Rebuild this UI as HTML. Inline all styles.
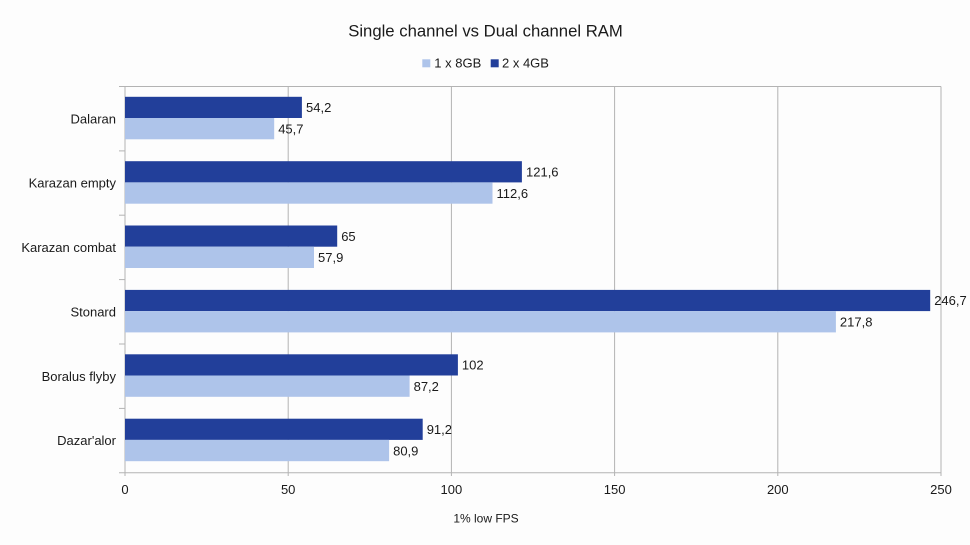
<!DOCTYPE html>
<html><head><meta charset="utf-8"><style>
html,body{margin:0;padding:0;background:#fdfdfd;}
svg{display:block;}
text{font-family:"Liberation Sans",Arial,sans-serif;fill:#1a1a1a;}
</style></head><body>
<svg width="970" height="545" viewBox="0 0 970 545" xmlns="http://www.w3.org/2000/svg">
<rect x="0" y="0" width="970" height="545" fill="#fdfdfd"/>
<text x="485.5" y="36.7" font-size="16.7" text-anchor="middle">Single channel vs Dual channel RAM</text>
<rect x="422.3" y="59.3" width="8" height="8" fill="#aec4ea"/>
<text x="434.3" y="67.3" font-size="13">1 x 8GB</text>
<rect x="490.7" y="59.3" width="8" height="8" fill="#223f9a"/>
<text x="502" y="67.3" font-size="13">2 x 4GB</text>
<g stroke="#b3b3b3" stroke-width="1" fill="none">
<line x1="288.2" y1="86.5" x2="288.2" y2="476"/>
<line x1="451.4" y1="86.5" x2="451.4" y2="476"/>
<line x1="614.6" y1="86.5" x2="614.6" y2="476"/>
<line x1="777.8" y1="86.5" x2="777.8" y2="476"/>
<line x1="941" y1="86.5" x2="941" y2="476"/>
<line x1="119" y1="86.5" x2="941" y2="86.5"/>
<line x1="119" y1="472.7" x2="941" y2="472.7"/>
<line x1="125" y1="86.5" x2="125" y2="476"/>
<line x1="119" y1="150.9" x2="125" y2="150.9"/>
<line x1="119" y1="215.2" x2="125" y2="215.2"/>
<line x1="119" y1="279.6" x2="125" y2="279.6"/>
<line x1="119" y1="344" x2="125" y2="344"/>
<line x1="119" y1="408.4" x2="125" y2="408.4"/>
</g>
<g>
<rect x="125" y="96.8" width="176.9" height="21.2" fill="#223f9a"/>
<rect x="125" y="118" width="149.2" height="21.3" fill="#aec4ea"/>
<rect x="125" y="161.2" width="396.9" height="21.2" fill="#223f9a"/>
<rect x="125" y="182.4" width="367.5" height="21.3" fill="#aec4ea"/>
<rect x="125" y="225.5" width="212.2" height="21.2" fill="#223f9a"/>
<rect x="125" y="246.7" width="189" height="21.3" fill="#aec4ea"/>
<rect x="125" y="289.9" width="805.2" height="21.2" fill="#223f9a"/>
<rect x="125" y="311.1" width="710.9" height="21.3" fill="#aec4ea"/>
<rect x="125" y="354.3" width="332.9" height="21.2" fill="#223f9a"/>
<rect x="125" y="375.5" width="284.6" height="21.3" fill="#aec4ea"/>
<rect x="125" y="418.7" width="297.7" height="21.2" fill="#223f9a"/>
<rect x="125" y="439.9" width="264.1" height="21.3" fill="#aec4ea"/>
</g>
<g font-size="13">
<text x="306" y="112.1">54,2</text>
<text x="278.2" y="133.4">45,7</text>
<text x="526" y="176.5">121,6</text>
<text x="496.5" y="197.8">112,6</text>
<text x="341.2" y="240.8">65</text>
<text x="318" y="262.1">57,9</text>
<text x="934.2" y="305.2">246,7</text>
<text x="839.9" y="326.5">217,8</text>
<text x="461.9" y="369.6">102</text>
<text x="413.6" y="390.9">87,2</text>
<text x="426.7" y="434">91,2</text>
<text x="393.1" y="455.3">80,9</text>
</g>
<g font-size="13" text-anchor="end">
<text x="116" y="123.3">Dalaran</text>
<text x="116" y="187.7">Karazan empty</text>
<text x="116" y="252">Karazan combat</text>
<text x="116" y="316.4">Stonard</text>
<text x="116" y="380.8">Boralus flyby</text>
<text x="116" y="445.2">Dazar'alor</text>
</g>
<g font-size="13" text-anchor="middle">
<text x="125" y="494">0</text>
<text x="288.2" y="494">50</text>
<text x="451.4" y="494">100</text>
<text x="614.6" y="494">150</text>
<text x="777.8" y="494">200</text>
<text x="941" y="494">250</text>
</g>
<text x="486" y="522.7" font-size="12" text-anchor="middle">1% low FPS</text>
</svg>
</body></html>
